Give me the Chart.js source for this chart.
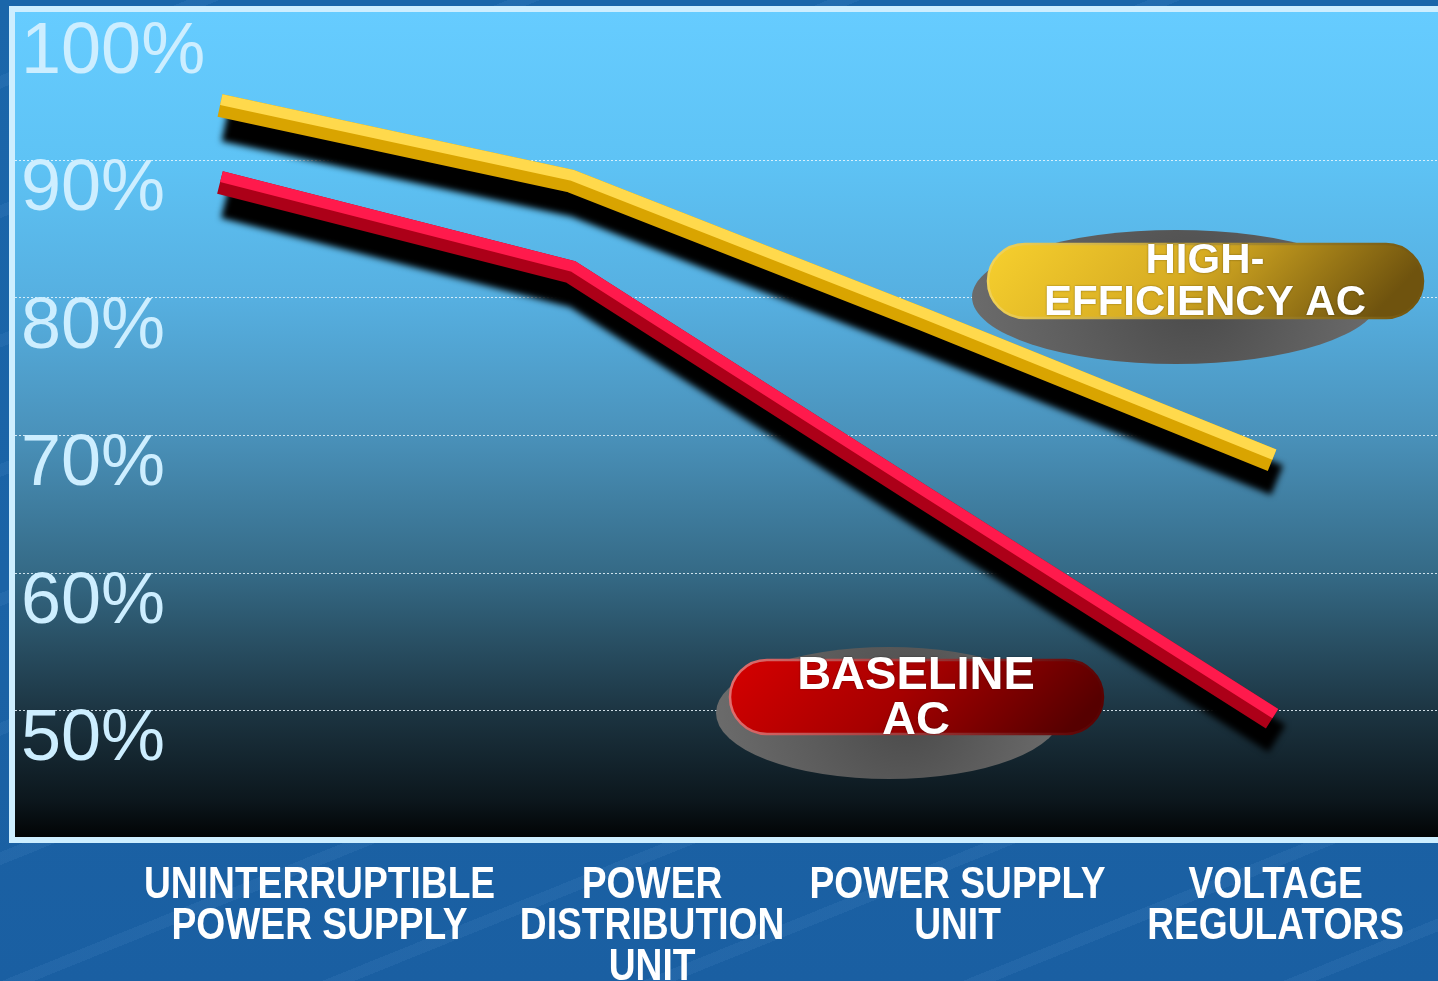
<!DOCTYPE html>
<html>
<head>
<meta charset="utf-8">
<script src="https://cdn.jsdelivr.net/npm/chart.js@4"></script>
<style>
  html, body { margin: 0; padding: 0; }
  body {
    width: 1438px; height: 981px; overflow: hidden;
    background:
      repeating-linear-gradient(-22deg, rgba(255,255,255,0) 0 46px, rgba(150,200,255,0.07) 46px 58px, rgba(255,255,255,0) 58px 120px),
      linear-gradient(180deg, #1a66aa 0%, #1b63a6 60%, #1a5fa2 100%);
  }
  #wrap { position: relative; width: 1438px; height: 981px; }
</style>
</head>
<body>
<div id="wrap"><canvas id="chart"></canvas></div>
<script>
// Efficiency at each stage of the power chain
const CATEGORIES = [
  ['UNINTERRUPTIBLE', 'POWER SUPPLY'],
  ['POWER', 'DISTRIBUTION', 'UNIT'],
  ['POWER SUPPLY', 'UNIT'],
  ['VOLTAGE', 'REGULATORS']
];
const HIGH_EFFICIENCY_AC = [94, 88.5, 78.5, 68.2];
const BASELINE_AC = [88.4, 81.9, 65.6, 49.4];
const Y_TICKS = [50, 60, 70, 80, 90, 100];
const SERIES_NAMES = ['HIGH-EFFICIENCY AC', 'BASELINE AC'];
const CALLOUT_LINES = [['HIGH-', 'EFFICIENCY AC'], ['BASELINE', 'AC']];

// Layout: where the category captions sit along the x axis (axis units)
const LABEL_AT = [0.284, 1.232, 2.103, 3.010];
// Horizontal squeeze for the condensed category captions
const CAPTION_SQUEEZE = 0.845;

// Ribbon looks for the two series
const STYLES = [
  { face: '#d9a400', light: '#ffd94c' },
  { face: '#ac0018', light: '#ff1a4c' }
];

// Callout pills, placed relative to the plot area
const CALLOUTS = [
  { box: [973, 232, 435, 74], ellipse: [1161, 285, 204, 67], textX: 1190, baselines: [261, 303], size: 42,
    fill: ['#f7d02e', '#d6ab22', '#6f530e'], rim: '#f3d459' },
  { box: [715, 648, 373, 74], ellipse: [874, 701, 173, 66], textX: 901, baselines: [677, 722], size: 47,
    fill: ['#d60000', '#a60000', '#560000'], rim: '#e27070' }
];

// Linear axis whose tick captions are drawn horizontally condensed
class CaptionScale extends Chart.LinearScale {
  drawLabels(chartArea) {
    const renderText = Chart.helpers && Chart.helpers.renderText;
    if (!renderText || !this.options.ticks.display) return super.drawLabels(chartArea);
    const ctx = this.ctx;
    for (const item of this.getLabelItems(chartArea)) {
      const o = item.options;
      ctx.save();
      ctx.translate(o.translation[0], o.translation[1]);
      ctx.scale(CAPTION_SQUEEZE, 1);
      renderText(ctx, item.label, 0, item.textOffset, item.font, Object.assign({}, o, { translation: null }));
      ctx.restore();
    }
  }
}
CaptionScale.id = 'captionLinear';
CaptionScale.defaults = Chart.LinearScale.defaults;
Chart.register(CaptionScale);

function offsetLine(pts, d) {
  const n = pts.length, segs = [];
  for (let i = 0; i < n - 1; i++) {
    const dx = pts[i + 1].x - pts[i].x, dy = pts[i + 1].y - pts[i].y;
    const len = Math.hypot(dx, dy) || 1;
    segs.push({ x: dy / len, y: -dx / len });
  }
  return pts.map((p, i) => {
    let nx, ny, k = 1;
    if (i === 0) { nx = segs[0].x; ny = segs[0].y; }
    else if (i === n - 1) { nx = segs[n - 2].x; ny = segs[n - 2].y; }
    else {
      nx = segs[i - 1].x + segs[i].x; ny = segs[i - 1].y + segs[i].y;
      const l = Math.hypot(nx, ny) || 1; nx /= l; ny /= l;
      k = 1 / (nx * segs[i].x + ny * segs[i].y);
    }
    return { x: p.x + nx * d * k, y: p.y + ny * d * k };
  });
}

function tracePath(ctx, pts) {
  ctx.beginPath();
  pts.forEach((p, i) => i ? ctx.lineTo(p.x, p.y) : ctx.moveTo(p.x, p.y));
}

const panelPlugin = {
  id: 'panel',
  beforeDraw(chart) {
    const { ctx, chartArea: a } = chart;
    ctx.save();
    const g = ctx.createLinearGradient(0, a.top, 0, a.bottom);
    g.addColorStop(0, '#66ccff');
    g.addColorStop(0.18, '#5ec3f5');
    g.addColorStop(0.35, '#56afe0');
    g.addColorStop(0.51, '#4a92bb');
    g.addColorStop(0.68, '#356a86');
    g.addColorStop(0.85, '#1c3441');
    g.addColorStop(0.955, '#0c171d');
    g.addColorStop(1, '#020405');
    ctx.fillStyle = g;
    ctx.fillRect(a.left, a.top, a.right - a.left, a.bottom - a.top);
    ctx.strokeStyle = '#cdeeff';
    ctx.lineWidth = 6;
    ctx.strokeRect(a.left - 3, a.top - 3, a.right - a.left + 20, a.bottom - a.top + 6);
    ctx.restore();
  },
  beforeDatasetsDraw(chart) {
    const { ctx, chartArea: a } = chart;
    CALLOUTS.forEach((c, idx) => {
      ctx.save();
      // soft grey ground shadow
      const [ex, ey, rx, ry] = c.ellipse;
      const sg = ctx.createRadialGradient(a.left + ex + 20, a.top + ey, 10, a.left + ex, a.top + ey, rx);
      sg.addColorStop(0, '#4c4c4c');
      sg.addColorStop(0.5, '#5c5c5c');
      sg.addColorStop(1, '#6b6b6b');
      ctx.fillStyle = sg;
      ctx.beginPath();
      ctx.ellipse(a.left + ex, a.top + ey, rx, ry, 0, 0, Math.PI * 2);
      ctx.fill();
      // pill body
      const [bx, by, bw, bh] = c.box;
      const x = a.left + bx, y = a.top + by, r = bh / 2;
      const fg = ctx.createLinearGradient(x, y, x + bw * 0.55, y + bh + bw * 0.35);
      fg.addColorStop(0, c.fill[0]);
      fg.addColorStop(0.5, c.fill[1]);
      fg.addColorStop(1, c.fill[2]);
      ctx.beginPath();
      ctx.roundRect(x, y, bw, bh, r);
      ctx.fillStyle = fg;
      ctx.fill();
      ctx.lineWidth = 2.5;
      const rg = ctx.createLinearGradient(x, y, x + bw, y + bh);
      rg.addColorStop(0, c.rim);
      rg.addColorStop(1, c.fill[2]);
      ctx.strokeStyle = rg;
      ctx.stroke();
      // caption
      ctx.font = 'bold ' + c.size + 'px "Liberation Sans", Arial, sans-serif';
      ctx.textAlign = 'center';
      ctx.textBaseline = 'alphabetic';
      ctx.fillStyle = '#ffffff';
      ctx.shadowColor = 'rgba(0,0,0,0.45)';
      ctx.shadowBlur = 2;
      CALLOUT_LINES[idx].forEach((t, i) => ctx.fillText(t, a.left + c.textX, a.top + c.baselines[i]));
      ctx.restore();
    });
  },
  beforeDatasetDraw(chart, args) {
    // dark drop shadow under each ribbon
    const ctx = chart.ctx;
    const pts = args.meta.data.map(p => ({ x: p.x, y: p.y }));
    ctx.save();
    ctx.shadowColor = 'rgba(0,0,0,1)';
    ctx.shadowBlur = 6;
    ctx.shadowOffsetX = 5;
    ctx.shadowOffsetY = 2000;
    ctx.translate(0, 20 - 2000);
    tracePath(ctx, pts);
    ctx.lineWidth = 32;
    ctx.lineJoin = 'round';
    ctx.lineCap = 'butt';
    ctx.strokeStyle = '#000000';
    ctx.stroke();
    ctx.restore();
  },
  afterDatasetDraw(chart, args) {
    // lit upper face of the ribbon
    const ctx = chart.ctx;
    const pts = args.meta.data.map(p => ({ x: p.x, y: p.y }));
    ctx.save();
    tracePath(ctx, offsetLine(pts, 6));
    ctx.lineWidth = 11;
    ctx.lineJoin = 'miter';
    ctx.lineCap = 'butt';
    ctx.strokeStyle = STYLES[args.index].light;
    ctx.stroke();
    ctx.restore();
  }
};

const toPoints = arr => arr.map((v, i) => ({ x: i, y: v }));

new Chart(document.getElementById('chart'), {
  type: 'line',
  data: {
    datasets: [HIGH_EFFICIENCY_AC, BASELINE_AC].map((vals, i) => ({
      label: SERIES_NAMES[i],
      data: toPoints(vals),
      borderColor: STYLES[i].face,
      borderWidth: 23,
      borderJoinStyle: 'miter',
      borderCapStyle: 'butt',
      pointRadius: 0,
      pointHoverRadius: 0,
      tension: 0,
      fill: false,
      clip: false
    }))
  },
  options: {
    responsive: true,
    maintainAspectRatio: false,
    animation: false,
    layout: { padding: { left: 15, top: 12, right: 0, bottom: 0 } },
    plugins: { legend: { display: false }, tooltip: { enabled: false } },
    scales: {
      x: {
        type: 'captionLinear',
        min: -0.5845,
        max: 3.4731,
        afterBuildTicks: s => { s.ticks = LABEL_AT.map(v => ({ value: v })); },
        afterFit: s => { s.height = 144; s.paddingLeft = 0; s.paddingRight = 0; },
        grid: { display: false, drawTicks: false },
        border: { display: false },
        ticks: {
          autoSkip: false,
          maxRotation: 0,
          minRotation: 0,
          padding: 28,
          color: '#ffffff',
          font: { family: '"Liberation Sans", Arial, sans-serif', size: 44, weight: 'bold', lineHeight: 0.932 },
          callback: (v, i) => CATEGORIES[i]
        }
      },
      y: {
        min: 40.8,
        max: 100.8,
        afterBuildTicks: s => { s.ticks = Y_TICKS.map(v => ({ value: v })); },
        afterFit: s => { s.width = 0; s.paddingTop = 0; s.paddingBottom = 0; },
        grid: {
          drawTicks: false,
          lineWidth: 1,
          color: c => (c.tick && c.tick.value === 100) ? 'rgba(0,0,0,0)' : 'rgba(235,248,255,0.85)'
        },
        border: { display: false, dash: [2, 2] },
        ticks: {
          mirror: true,
          padding: 6,
          labelOffset: 30,
          color: '#cdeeff',
          font: { family: '"Liberation Sans", Arial, sans-serif', size: 72, weight: 'normal' },
          callback: v => v + '%'
        }
      }
    }
  },
  plugins: [panelPlugin]
});
</script>
</body>
</html>
